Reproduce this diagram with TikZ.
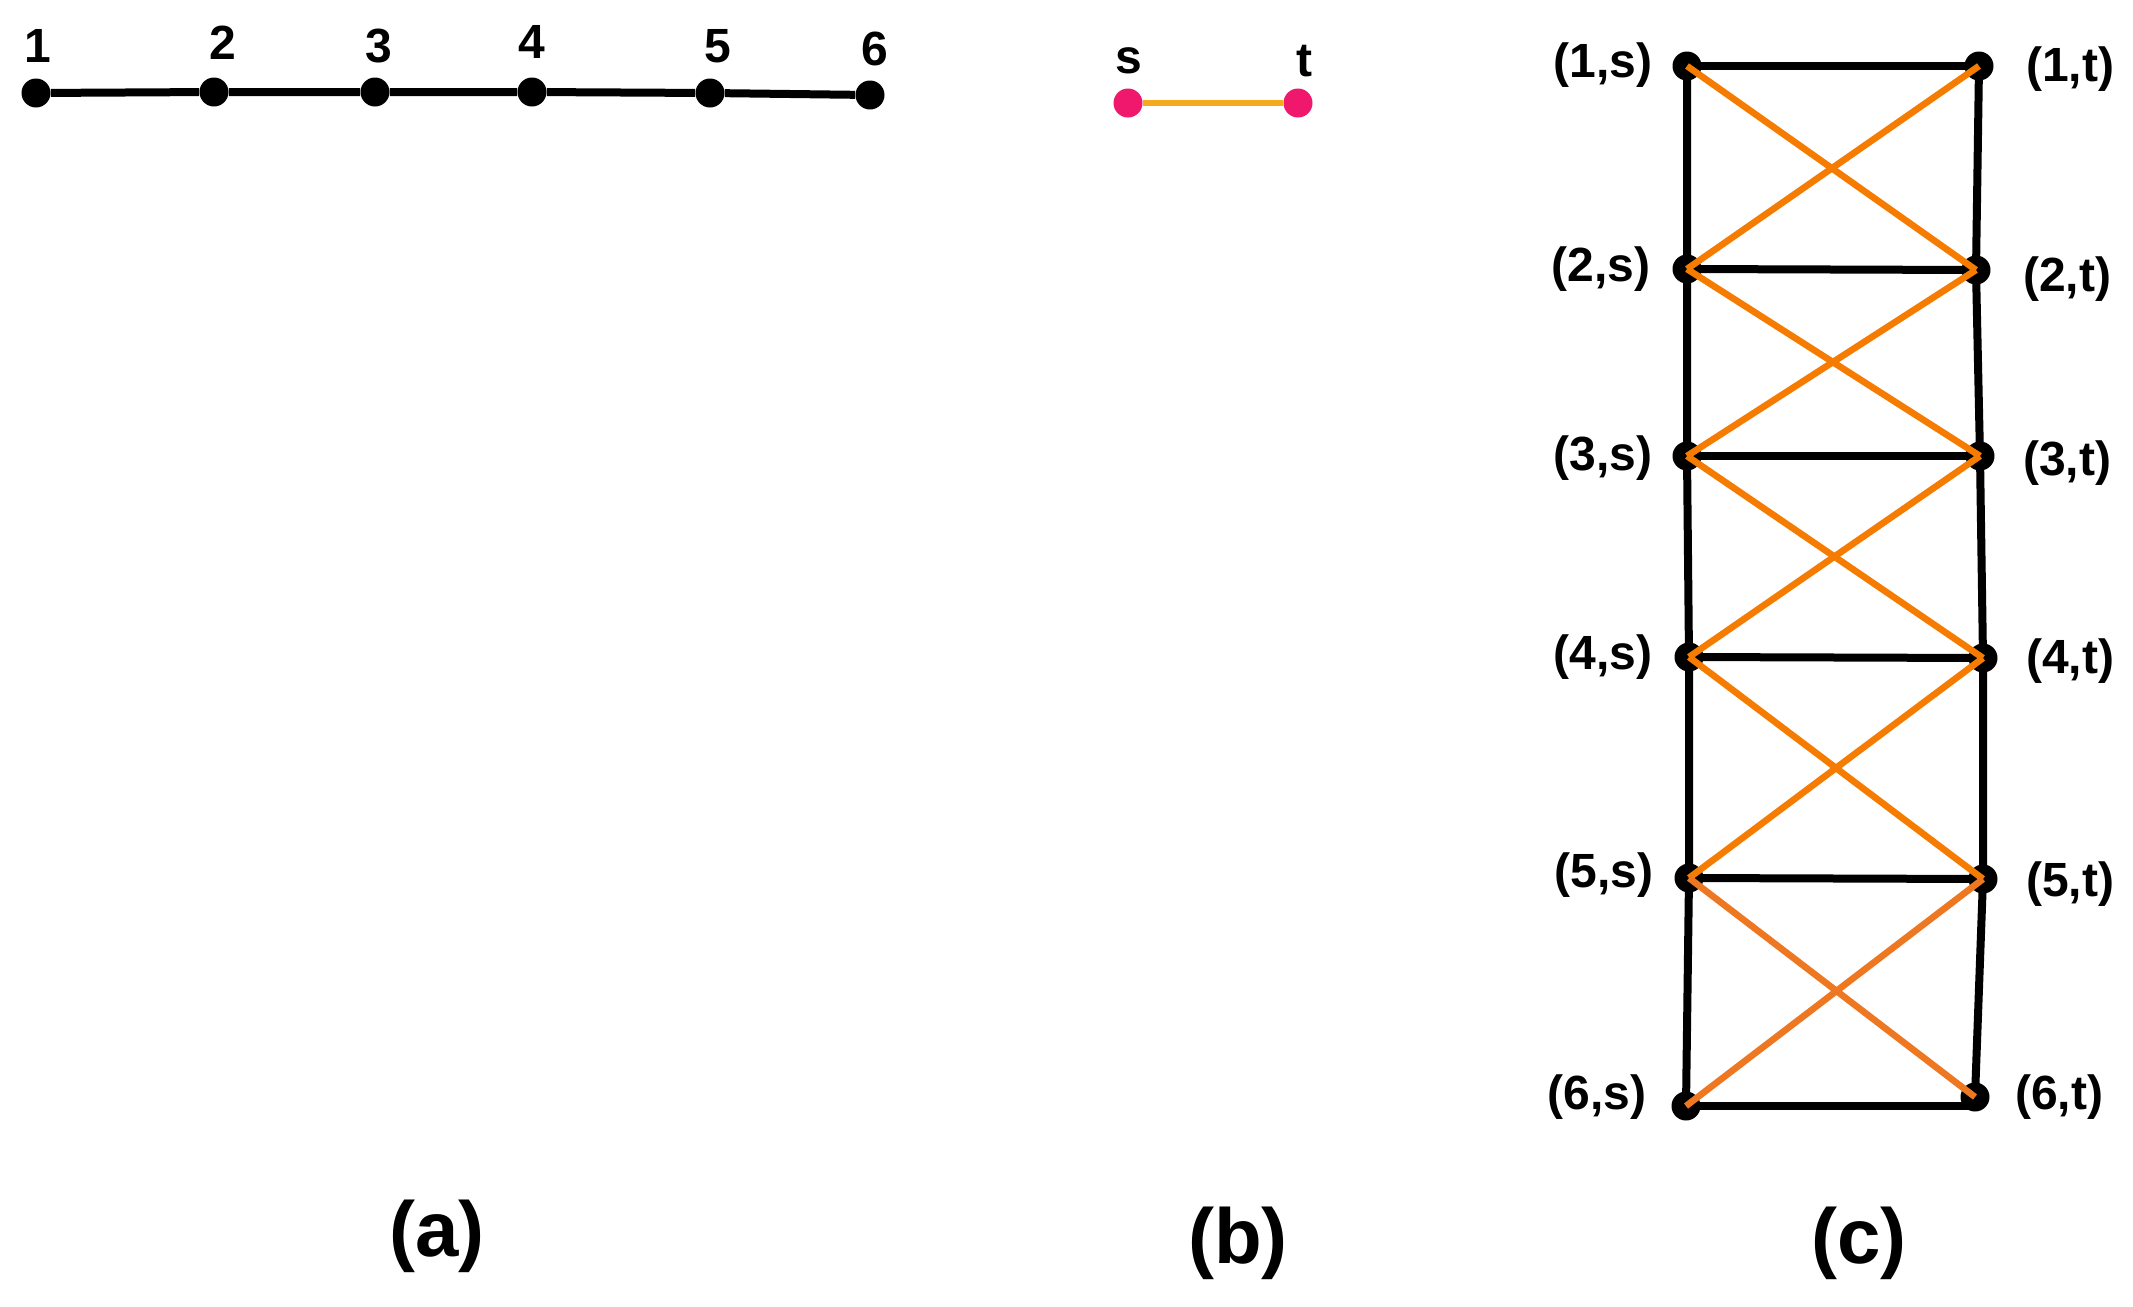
\documentclass[tikz,border=0pt]{standalone}
\usepackage{fontspec}
\setmainfont{Liberation Sans}
\definecolor{orangec}{RGB}{245,124,0}
\definecolor{orangeb}{RGB}{238,120,34}
\definecolor{yellowc}{RGB}{245,170,30}
\definecolor{pinkc}{RGB}{240,24,108}
\tikzset{
  dot/.style={circle, fill=black, inner sep=0pt, minimum size=14.5pt},
  pdot/.style={circle, fill=pinkc, inner sep=0pt, minimum size=14.5pt},
  lbl/.style={font=\fontsize{24}{28}\selectfont\bfseries, inner sep=0pt},
  captxt/.style={font=\fontsize{39}{44}\selectfont\bfseries, inner sep=0pt},
  blk/.style={line width=4pt, draw=black},
  org/.style={line width=3.3pt, draw=orangec},
  orgb/.style={line width=3.3pt, draw=orangeb},
  yel/.style={line width=3.3pt, draw=yellowc},
}
\begin{document}
\begin{tikzpicture}[x=0.5pt,y=-0.5pt]
\fill[white] (0,0) rectangle (2133,1307);
\useasboundingbox (0,0) rectangle (2133,1307);

% ---- panel (a)
\node[dot] (a1) at (36,93) {};
\node[dot] (a2) at (214,92) {};
\node[dot] (a3) at (375,92) {};
\node[dot] (a4) at (532,92) {};
\node[dot] (a5) at (710,93) {};
\node[dot] (a6) at (870,95) {};
\draw[blk] (a1) -- (a2) -- (a3) -- (a4) -- (a5) -- (a6);
\node[lbl] (la1) at (38,46) {1};
\node[lbl] (la2) at (223,43) {2};
\node[lbl] (la3) at (379,46) {3};
\node[lbl] (la4) at (532,42) {4};
\node[lbl] (la5) at (718,46) {5};
\node[lbl] (la6) at (875,49) {6};

% ---- panel (b)
\node[pdot] (bs) at (1128,103) {};
\node[pdot] (bt) at (1298,103) {};
\draw[yel] (bs) -- (bt);
\node[lbl, anchor=base] (lbs) at (1129,73.5) {s};
\node[lbl, anchor=base] (lbt) at (1304,76.5) {t};

% ---- panel (c)
\node[dot] (c1s) at (1687,66) {};
\node[dot] (c1t) at (1979,66) {};
\node[dot] (c2s) at (1687,269) {};
\node[dot] (c2t) at (1976,270) {};
\node[dot] (c3s) at (1687,456) {};
\node[dot] (c3t) at (1980,456) {};
\node[dot] (c4s) at (1689,657) {};
\node[dot] (c4t) at (1983,658) {};
\node[dot] (c5s) at (1689,878) {};
\node[dot] (c5t) at (1983,879) {};
\node[dot] (c6s) at (1686,1106) {};
\node[dot] (c6t) at (1975,1097) {};

\draw[blk] (c1s.center) -- (c2s.center) -- (c3s.center) -- (c4s.center) -- (c5s.center) -- (c6s.center);
\draw[blk] (c1t.center) -- (c2t.center) -- (c3t.center) -- (c4t.center) -- (c5t.center) -- (c6t.center);
\draw[blk] (c1s.center) -- (c1t.center);
\draw[blk] (c2s.center) -- (c2t.center);
\draw[blk] (c3s.center) -- (c3t.center);
\draw[blk] (c4s.center) -- (c4t.center);
\draw[blk] (c5s.center) -- (c5t.center);
\draw[blk] (c6s.center) -- (c6s.center -| c6t.center);

\draw[org] (c1s.center) -- (c2t.center);
\draw[org] (c1t.center) -- (c2s.center);
\draw[org] (c2s.center) -- (c3t.center);
\draw[org] (c2t.center) -- (c3s.center);
\draw[org] (c3s.center) -- (c4t.center);
\draw[org] (c3t.center) -- (c4s.center);
\draw[org] (c4s.center) -- (c5t.center);
\draw[org] (c4t.center) -- (c5s.center);
\draw[orgb] (c5s.center) -- (c6t.center);
\draw[orgb] (c5t.center) -- (c6s.center);

\node[lbl] (l1s) at (1603,65) {(1,s)};
\node[lbl] (l1t) at (2070,69) {(1,t)};
\node[lbl] (l2s) at (1601,269) {(2,s)};
\node[lbl] (l2t) at (2067,279) {(2,t)};
\node[lbl] (l3s) at (1603,458) {(3,s)};
\node[lbl] (l3t) at (2067,463) {(3,t)};
\node[lbl] (l4s) at (1603,657) {(4,s)};
\node[lbl] (l4t) at (2070,661) {(4,t)};
\node[lbl] (l5s) at (1604,875) {(5,s)};
\node[lbl] (l5t) at (2070,884) {(5,t)};
\node[lbl] (l6s) at (1597,1097) {(6,s)};
\node[lbl] (l6t) at (2059,1097) {(6,t)};

% ---- captions
\node[captxt] (capa) at (437,1236) {(a)};
\node[captxt] (capb) at (1238,1243) {(b)};
\node[captxt] (capc) at (1859,1243) {(c)};
\end{tikzpicture}
\end{document}
